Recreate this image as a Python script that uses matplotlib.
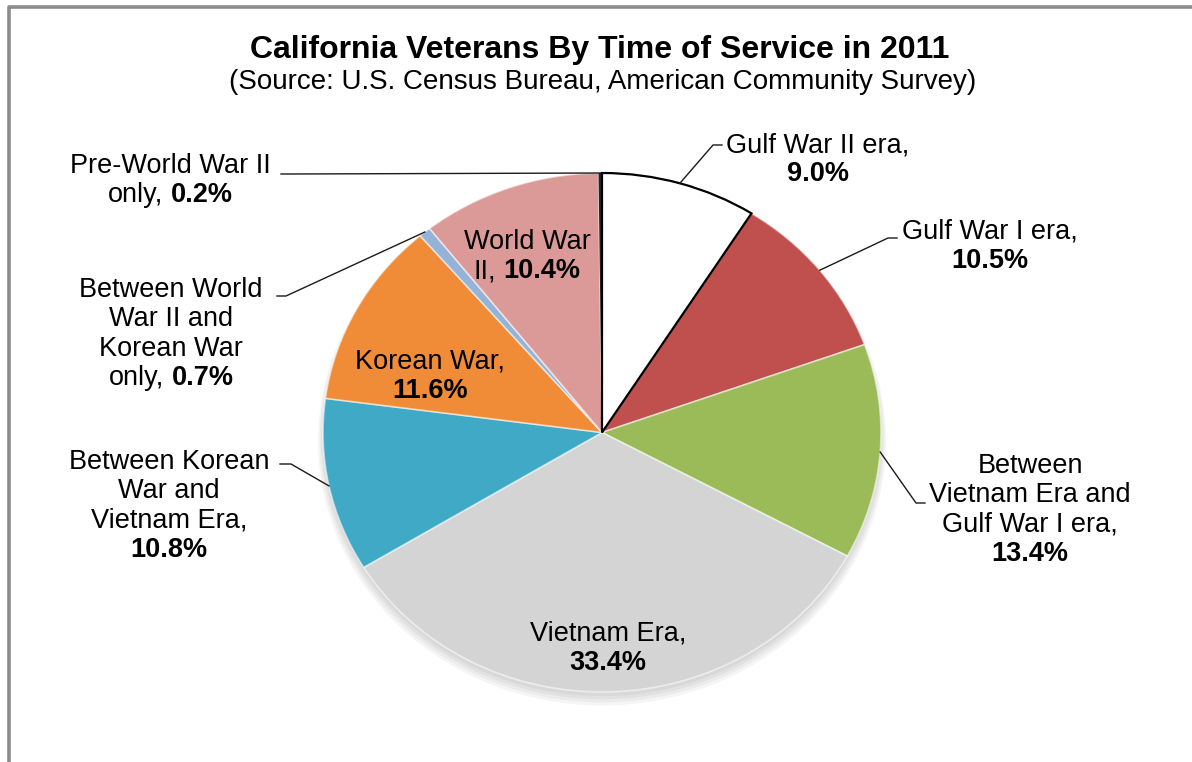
import matplotlib
matplotlib.use("Agg")
import matplotlib.pyplot as plt
from matplotlib.patches import Ellipse
import numpy as np

plt.rcParams['font.family'] = ['Liberation Sans', 'DejaVu Sans']

# ---------------- data ----------------
categories = [
    "Gulf War II era",
    "Gulf War I era",
    "Between Vietnam Era and Gulf War I era",
    "Vietnam Era",
    "Between Korean War and Vietnam Era",
    "Korean War",
    "Between World War II and Korean War only",
    "World War II",
    "Pre-World War II only",
]
shares = [9.0, 10.5, 13.4, 33.4, 10.8, 11.6, 0.7, 10.4, 0.2]
slice_colors = ["#FFFFFF", "#C0504D", "#9BBB59", "#D4D4D4", "#40A9C6",
                "#F08C38", "#95B3D7", "#DB9A98", "#262626"]

# how each category name is wrapped in its label (last item gets the percentage)
name_lines = [
    ["Gulf War II era,"],
    ["Gulf War I era,"],
    ["Between", "Vietnam Era and", "Gulf War I era,"],
    ["Vietnam Era,"],
    ["Between Korean", "War and", "Vietnam Era,"],
    ["Korean War,"],
    ["Between World", "War II and", "Korean War", "only,"],
    ["World War", "II,"],
    ["Pre-World War II", "only,"],
]
# percentage on its own line (True) or appended to the last name line (False)
pct_own_line = [True, True, True, True, True, True, False, False, False]

title = "California Veterans By Time of Service in 2011"
subtitle = "(Source: U.S. Census Bureau, American Community Survey)"

# ---------------- layout (pixels) ----------------
W, H = 1192, 762
label_center_x = [818, 990, 1030, 608, 169, 430, 171, 527, 170]
label_first_baseline = [152, 239, 473, 641, 469, 369, 297, 249, 173]
line_step = 29.3
# leader lines: (elbow, end) in pixels, None for inside labels
leaders = [
    ((713, 145), (722, 145)),
    ((888, 238), (897, 238)),
    ((916, 503), (925, 503)),
    None,
    ((291, 464), (280, 464)),
    None,
    ((286, 296), (277, 296)),
    None,
    ((290, 174), (281, 174)),
]

fig = plt.figure(figsize=(W / 100, H / 100), dpi=100)
fig.patch.set_facecolor("white")

# pie axes (elliptical like the reference)
px0, px1, py0, py1 = 323, 881, 173, 692
ax = fig.add_axes([px0 / W, (H - py1) / H, (px1 - px0) / W, (py1 - py0) / H])
ax.axis("off")

# soft shadow
for k in range(4):
    ax.add_patch(Ellipse((0.0, -0.016 - 0.006 * k), 2.0 + 0.012 * k, 2.0 + 0.012 * k,
                         facecolor="black", alpha=0.04, edgecolor="none", zorder=0,
                         clip_on=False))

wedges, _ = ax.pie(shares, colors=slice_colors, startangle=90, counterclock=False,
                   radius=1.0, center=(0, 0),
                   wedgeprops=dict(edgecolor=(1, 1, 1, 0.55), linewidth=1.2))
for w in wedges:
    w.set_zorder(2)
wedges[-1].set_edgecolor("none")
wedges[0].set_edgecolor("#000000")
wedges[0].set_linewidth(1.6)
wedges[0].set_zorder(3)
ax.set_aspect("auto")
ax.set_xlim(-1, 1)
ax.set_ylim(-1, 1)

# overlay axes in pixel coordinates
ov = fig.add_axes([0, 0, 1, 1], zorder=5)
ov.set_xlim(0, W)
ov.set_ylim(H, 0)
ov.axis("off")

# chart frame (left & top)
ov.plot([8.5, 8.5, W], [H, 6.5, 6.5], color="#8C8C8C", lw=2.6, solid_capstyle="butt")

# titles
ov.text(600, 58, title, fontsize=23, fontweight="bold", ha="center", va="baseline",
        color="#000000")
ov.text(603, 89, subtitle, fontsize=20, ha="center", va="baseline", color="#000000")

FS = 19.5
renderer = fig.canvas.get_renderer()
space_px = 0.278 * FS * 100 / 72


def place_line(cx, y, parts):
    texts = []
    for s, bold in parts:
        t = ov.text(0, y, s, fontsize=FS, fontweight="bold" if bold else "normal",
                    ha="left", va="baseline", color="#000000")
        texts.append(t)
    widths = [t.get_window_extent(renderer).width for t in texts]
    total = sum(widths) + space_px * (len(texts) - 1)
    x = cx - total / 2
    for t, w in zip(texts, widths):
        t.set_x(x)
        x += w + space_px


# labels
for i, v in enumerate(shares):
    pct = f"{v:.1f}%"
    lines = [[(s, False)] for s in name_lines[i]]
    if pct_own_line[i]:
        lines.append([(pct, True)])
    else:
        lines[-1].append((pct, True))
    for j, parts in enumerate(lines):
        place_line(label_center_x[i], label_first_baseline[i] + j * line_step, parts)

# leader lines from the wedge rim (mid-angle) to the labels
to_ov = ov.transData.inverted()
for i, w in enumerate(wedges):
    if leaders[i] is None:
        continue
    mid = np.deg2rad((w.theta1 + w.theta2) / 2)
    rim_disp = ax.transData.transform((np.cos(mid), np.sin(mid)))
    rx, ry = to_ov.transform(rim_disp)
    (ex, ey), (tx, ty) = leaders[i]
    ov.plot([rx, ex, tx], [ry, ey, ty], color="#1A1A1A", lw=1.0, zorder=6)

fig.savefig("out.png", dpi=100, facecolor="white")
